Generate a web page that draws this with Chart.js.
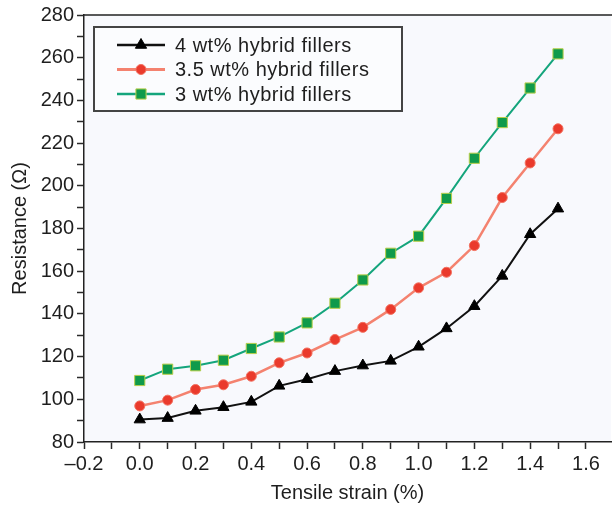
<!DOCTYPE html>
<html>
<head>
<meta charset="utf-8">
<script src="https://cdn.jsdelivr.net/npm/chart.js@4.4.0/dist/chart.umd.min.js"></script>
<style>
  html, body { margin: 0; padding: 0; background: #fff; }
  #wrap { width: 612px; height: 510px; position: relative; }
</style>
</head>
<body>
<div id="wrap"><canvas id="chart" width="612" height="510"></canvas></div>
<script>
// values
const strain = [0.0, 0.1, 0.2, 0.3, 0.4, 0.5, 0.6, 0.7, 0.8, 0.9, 1.0, 1.1, 1.2, 1.3, 1.4, 1.5];
const res4wt = [90.5, 91.2, 94.6, 96.3, 98.8, 106.3, 109.4, 113.2, 115.8, 118.0, 124.6, 133.2, 143.6, 157.8, 177.3, 189.3];
const res35wt = [96.9, 99.6, 104.6, 106.8, 110.8, 117.1, 121.7, 128.0, 133.7, 142.1, 152.2, 159.5, 172.0, 194.5, 210.7, 226.7];
const res3wt = [108.8, 114.1, 115.7, 118.3, 123.8, 129.2, 135.8, 145.0, 155.9, 168.4, 176.4, 194.1, 212.9, 229.6, 245.8, 261.8];
const seriesNames = ['4 wt% hybrid fillers', '3.5 wt% hybrid fillers', '3 wt% hybrid fillers'];

const xMin = -0.2, xMax = 1.69;
const yMin = 80, yMax = 280;

const FONT = '"Liberation Sans", Arial, Helvetica, sans-serif';
const textColor = '#1e1e1e';

function pts(ys) {
  return strain.map((x, i) => ({ x: x, y: ys[i] }));
}

const datasets = [
  {
    label: seriesNames[0], data: pts(res4wt),
    borderColor: '#111', borderWidth: 2,
    pointStyle: 'triangle', pointRadius: 6.5,
    pointBackgroundColor: '#000', pointBorderColor: '#000', pointBorderWidth: 1
  },
  {
    label: seriesNames[1], data: pts(res35wt),
    borderColor: '#f4826f', borderWidth: 2.5,
    pointStyle: 'circle', pointRadius: 5,
    pointBackgroundColor: '#ea3a2c', pointBorderColor: '#f3705f', pointBorderWidth: 1
  },
  {
    label: seriesNames[2], data: pts(res3wt),
    borderColor: '#14a57c', borderWidth: 2,
    pointStyle: 'rect', pointRadius: 7.2,
    pointBackgroundColor: '#0f9a4b', pointBorderColor: '#b9cf4a', pointBorderWidth: 1
  }
];

// plot background + top frame line
const frame = {
  id: 'frame',
  beforeDraw(chart) {
    const { ctx, chartArea: a } = chart;
    ctx.save();
    ctx.fillStyle = '#f8f9fd';
    ctx.fillRect(a.left, a.top, a.right - a.left, a.bottom - a.top);
    ctx.restore();
  },
  afterDraw(chart) {
    const { ctx, chartArea: a } = chart;
    ctx.save();
    ctx.strokeStyle = '#222';
    ctx.lineWidth = 1.5;
    ctx.beginPath();
    ctx.moveTo(a.left, a.top);
    ctx.lineTo(a.right + 2, a.top);
    ctx.stroke();
    ctx.restore();
  }
};

// boxed legend in the upper left, line + marker samples
const boxLegend = {
  id: 'boxLegend',
  afterDraw(chart) {
    const ctx = chart.ctx;
    const a = chart.chartArea;
    const bx = a.left + 10, by = a.top + 12, bw = 308, bh = 84;
    ctx.save();
    ctx.fillStyle = '#fbfcfe';
    ctx.fillRect(bx, by, bw, bh);
    ctx.strokeStyle = '#444';
    ctx.lineWidth = 2;
    ctx.strokeRect(bx, by, bw, bh);
    ctx.font = '20px ' + FONT;
    ctx.textBaseline = 'middle';
    ctx.textAlign = 'left';
    if ('letterSpacing' in ctx) ctx.letterSpacing = '0.5px';
    chart.data.datasets.forEach((ds, i) => {
      const y = by + 18 + i * 24.5;
      ctx.strokeStyle = ds.borderColor;
      ctx.lineWidth = ds.borderWidth + 0.5;
      ctx.beginPath();
      ctx.moveTo(bx + 23, y);
      ctx.lineTo(bx + 71, y);
      ctx.stroke();
      ctx.fillStyle = ds.pointBackgroundColor;
      ctx.strokeStyle = ds.pointBorderColor;
      ctx.lineWidth = ds.pointBorderWidth;
      Chart.helpers.drawPoint(ctx, {
        pointStyle: ds.pointStyle, radius: ds.pointRadius, rotation: 0, borderWidth: ds.pointBorderWidth
      }, bx + 47, y);
      ctx.fillStyle = textColor;
      ctx.fillText(ds.label, bx + 81, y + 1);
    });
    ctx.restore();
  }
};

new Chart(document.getElementById('chart'), {
  type: 'line',
  data: { datasets: datasets },
  plugins: [frame, boxLegend],
  options: {
    responsive: false,
    animation: false,
    layout: { autoPadding: false, padding: { top: 14, right: 1, bottom: 5, left: 0 } },
    plugins: { legend: { display: false }, tooltip: { enabled: false } },
    elements: { line: { tension: 0, fill: false } },
    scales: {
      x: {
        type: 'linear', min: xMin, max: xMax,
        afterFit(scale) { scale.height = 63; },
        afterBuildTicks(scale) {
          scale.ticks = scale.ticks.filter(t => Math.abs(t.value * 10 - Math.round(t.value * 10)) < 1e-6);
        },
        ticks: {
          stepSize: 0.1, padding: 3, color: textColor, includeBounds: false,
          font: { family: FONT, size: 20 },
          maxRotation: 0, autoSkip: false,
          callback(v) {
            const k = Math.round(v * 10);
            if (k % 2 !== 0) return '';
            const s = (Math.abs(k) / 10).toFixed(1);
            return k < 0 ? '\u2013' + s : s;
          }
        },
        grid: { drawOnChartArea: false, drawTicks: true, tickLength: 7, tickColor: '#2a2a2a', tickWidth: 1.5 },
        border: { color: '#222', width: 1.5 },
        title: {
          display: true, text: 'Tensile strain (%)', color: textColor,
          font: { family: FONT, size: 20 }, padding: { top: 0, bottom: 0 }
        }
      },
      y: {
        min: yMin, max: yMax,
        afterFit(scale) { scale.width = 84; },
        ticks: {
          stepSize: 10, padding: 3, color: textColor,
          font: { family: FONT, size: 20 },
          autoSkip: false,
          callback(v) { return v % 20 === 0 ? String(v) : ''; }
        },
        grid: { drawOnChartArea: false, drawTicks: true, tickLength: 7, tickColor: '#2a2a2a', tickWidth: 1.5 },
        border: { color: '#222', width: 1.5 },
        title: {
          display: true, text: 'Resistance (\u03A9)', color: textColor,
          font: { family: FONT, size: 20 }, padding: { top: 8, bottom: 0 }
        }
      }
    }
  }
});
</script>
</body>
</html>
